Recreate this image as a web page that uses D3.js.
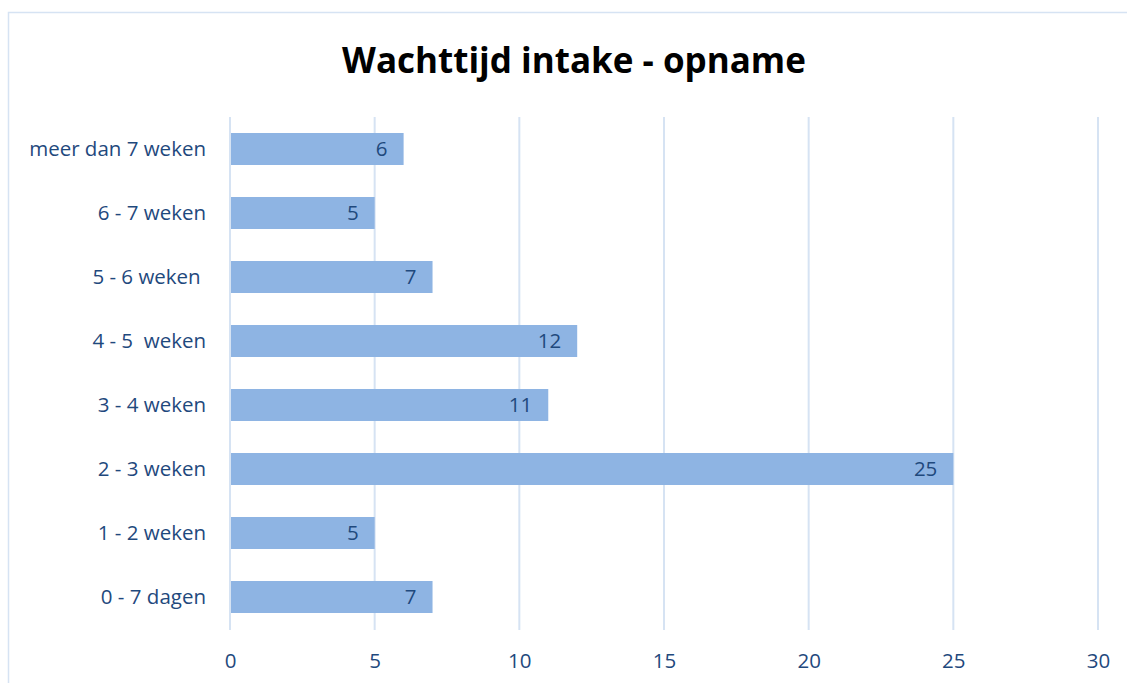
<!DOCTYPE html>
<html lang="nl">
<head>
<meta charset="UTF-8"/>
<title>Wachttijd intake - opname</title>
<script src="https://d3js.org/d3.v7.min.js"></script>
<style>
	body { margin: 0; background: #fff; }
	text { font-family: "Open Sans", "Noto Sans", sans-serif; fill: #1f497d; white-space: pre; }
	.title { font-weight: bold; font-size: 35px; fill: #000; }
	.grid line { stroke: #d6e3f3; stroke-width: 2; }
	.bar { fill: #8eb4e3; }
</style>
</head>
<body>
<div id="chart"></div>
<script>
var categories = ["meer dan 7 weken", "6 - 7 weken", "5 - 6 weken ", "4 - 5  weken",
                  "3 - 4 weken", "2 - 3 weken", "1 - 2 weken", "0 - 7 dagen"];
var values = [6, 5, 7, 12, 11, 25, 5, 7];
var xTicks = [0, 5, 10, 15, 20, 25, 30];

var w = 1127, h = 683;
var plotLeft = 230, plotRight = 1098, plotTop = 117, plotBottom = 629;
var fontSize = "20.5px";

var svg = d3.select("#chart").append("svg")
	.attr("width", w)
	.attr("height", h);

// chart border
svg.append("rect")
	.attr("x", 8.5).attr("y", 12.5)
	.attr("width", w + 10).attr("height", h + 10)
	.attr("fill", "none")
	.attr("stroke", "#d6e3f3")
	.attr("stroke-width", 1.5);

svg.append("text")
	.attr("class", "title")
	.attr("x", 574).attr("y", 73)
	.attr("text-anchor", "middle")
	.text("Wachttijd intake - opname");

var xScale = d3.scaleLinear().domain([0, 30]).range([plotLeft, plotRight]);
var yScale = d3.scaleBand().domain(categories).range([plotTop, plotBottom]).paddingInner(0.5).paddingOuter(0.25);

// gridlines
svg.append("g").attr("class", "grid")
	.selectAll("line")
	.data(xTicks)
	.enter()
	.append("line")
	.attr("x1", function(d) { return xScale(d); })
	.attr("x2", function(d) { return xScale(d); })
	.attr("y1", plotTop)
	.attr("y2", plotBottom + 1);

svg.selectAll(".bar")
	.data(values)
	.enter()
	.append("rect")
	.attr("class", "bar")
	.attr("x", xScale(0) + 1)
	.attr("y", function(d, i) { return yScale(categories[i]); })
	.attr("width", function(d) { return xScale(d) - xScale(0) - 1; })
	.attr("height", yScale.bandwidth());

svg.selectAll(".val")
	.data(values)
	.enter()
	.append("text")
	.attr("class", "val")
	.attr("x", function(d) { return xScale(d) - 16; })
	.attr("y", function(d, i) { return yScale(categories[i]) + yScale.bandwidth() / 2; })
	.attr("dy", "0.36em")
	.attr("text-anchor", "end")
	.style("font-size", fontSize)
	.text(function(d) { return d; });

// x axis
var xAxis = d3.axisBottom(xScale).tickValues(xTicks).tickSize(0).tickPadding(0);
var gx = svg.append("g")
	.attr("transform", "translate(0," + 661 + ")")
	.call(xAxis);
gx.select(".domain").remove();
gx.selectAll("text").attr("dy", "0.36em").style("font-size", fontSize).attr("fill", "#1f497d");

// y axis
var yAxis = d3.axisLeft(yScale).tickSize(0).tickPadding(24);
var gy = svg.append("g")
	.attr("transform", "translate(" + plotLeft + ",0)")
	.call(yAxis);
gy.select(".domain").remove();
gy.selectAll("text").style("font-size", fontSize).attr("fill", "#1f497d");
</script>
</body>
</html>
